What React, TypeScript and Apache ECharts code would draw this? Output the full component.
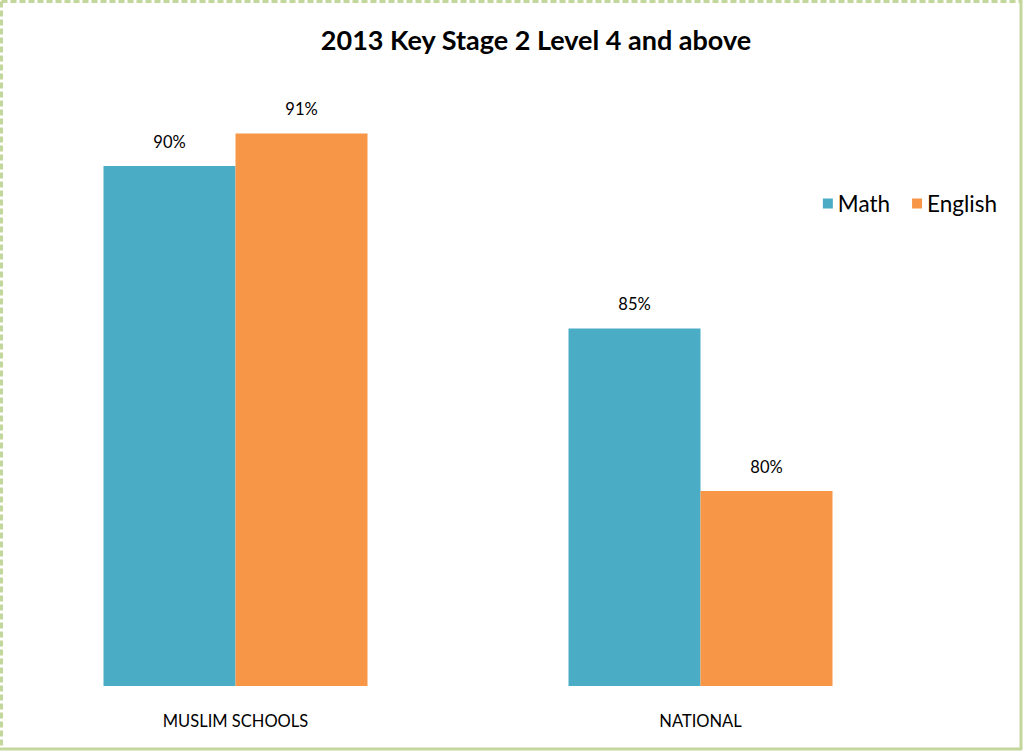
import React, { useEffect, useRef } from "react";
import * as echarts from "echarts";

const categories = ["MUSLIM SCHOOLS", "NATIONAL"];
const mathValues = [90, 85];
const englishValues = [91, 80];
const seriesNames = ["Math", "English"];

export default function App() {
  const ref = useRef<HTMLDivElement>(null);
  useEffect(() => {
    if (!ref.current) return;
    const chart = echarts.init(ref.current, undefined, { renderer: "svg" });
    const font = "Lato, 'Open Sans', sans-serif";
    const labelStyle = {
      show: true,
      position: "top",
      distance: 16,
      formatter: "{c}%",
      fontFamily: font,
      fontSize: 16.5,
      color: "#000",
    };
    chart.setOption({
      animation: false,
      backgroundColor: "#ffffff",
      title: {
        text: "2013 Key Stage 2 Level 4 and above",
        left: 531,
        textAlign: "center",
        top: 21,
        textStyle: { fontFamily: font, fontSize: 27, fontWeight: "bold", color: "#000" },
      },
      legend: {
        data: seriesNames,
        right: 22,
        top: 187,
        itemWidth: 10,
        itemHeight: 10,
        itemGap: 22,
        icon: "rect",
        textStyle: { fontFamily: font, fontSize: 22.5, color: "#000" },
      },
      grid: { left: 3, right: 91, top: 101, bottom: 66, containLabel: false },
      xAxis: {
        type: "category",
        data: categories,
        axisLine: { show: false },
        axisTick: { show: false },
        axisLabel: { fontFamily: font, fontSize: 16.5, color: "#000", margin: 26 },
      },
      yAxis: {
        type: "value",
        min: 74,
        max: 92,
        show: false,
        splitLine: { show: false },
      },
      series: [
        {
          name: seriesNames[0],
          type: "bar",
          data: mathValues,
          barWidth: 132,
          barGap: "0%",
          itemStyle: { color: "#4BACC6" },
          label: labelStyle,
        },
        {
          name: seriesNames[1],
          type: "bar",
          data: englishValues,
          barWidth: 132,
          barGap: "0%",
          itemStyle: { color: "#F79646" },
          label: labelStyle,
        },
      ],
      graphic: [
        { type: "line", shape: { x1: 1.5, y1: 1.5, x2: 1021, y2: 1.5 }, style: { stroke: "#C3D69B", lineWidth: 3, lineDash: [6, 3] } },
        { type: "line", shape: { x1: 1.5, y1: 1.5, x2: 1.5, y2: 749 }, style: { stroke: "#C3D69B", lineWidth: 3, lineDash: [6, 3] } },
        { type: "line", shape: { x1: 1021, y1: 0, x2: 1021, y2: 750 }, style: { stroke: "#C3D69B", lineWidth: 3 } },
        { type: "line", shape: { x1: 0, y1: 749, x2: 1022, y2: 749 }, style: { stroke: "#C3D69B", lineWidth: 3 } },
      ],
    });
    return () => chart.dispose();
  }, []);
  return (
    <div
      ref={ref}
      style={{ position: "fixed", left: 0, top: 0, width: 1024, height: 752 }}
    />
  );
}
